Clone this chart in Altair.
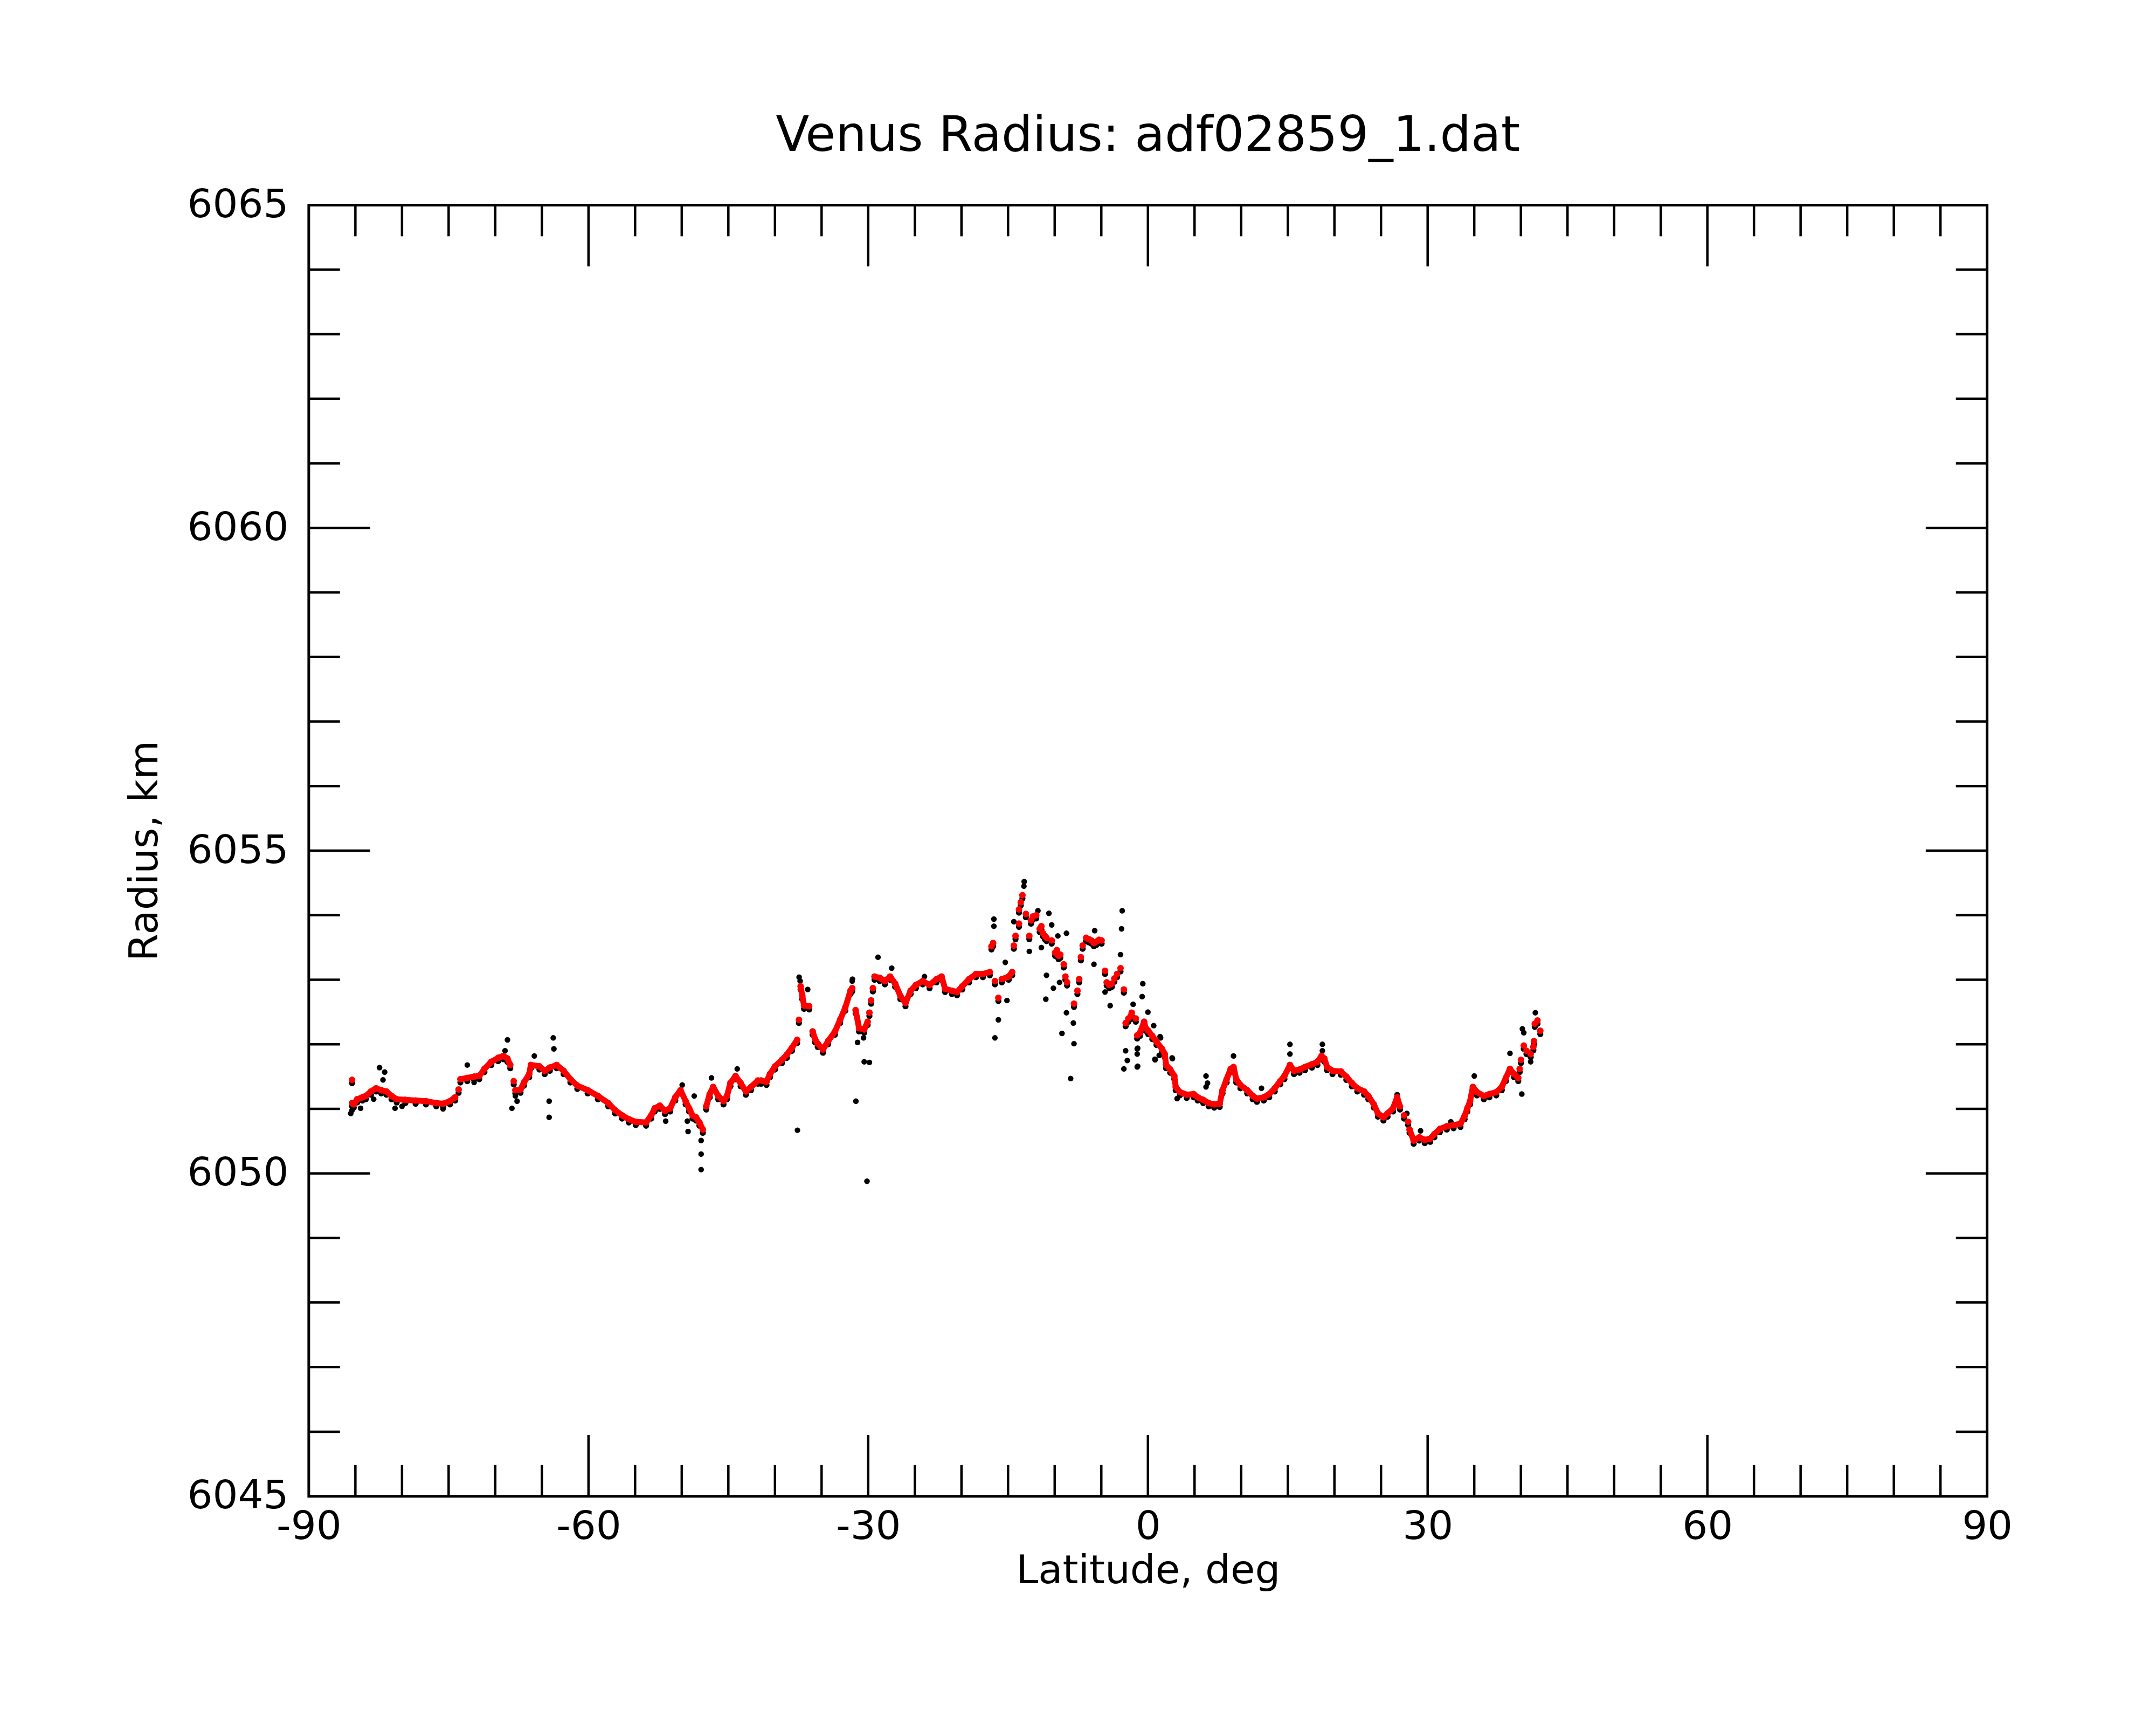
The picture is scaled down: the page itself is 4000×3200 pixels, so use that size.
import altair as alt
import pandas as pd

W, H = 3120, 2400
FONT = "DejaVu Sans"

# ---- axis tick positions / labels ----
x_labels = [-90, -60, -30, 0, 30, 60, 90]
x_major = [-60, -30, 0, 30, 60]
x_minor = [-85, -80, -75, -70, -65, -55, -50, -45, -40, -35, -25, -20, -15, -10, -5,
           5, 10, 15, 20, 25, 35, 40, 45, 50, 55, 65, 70, 75, 80, 85]
y_labels = [6045, 6050, 6055, 6060, 6065]
y_major = [6050, 6055, 6060]
y_minor = [6046, 6047, 6048, 6049, 6051, 6052, 6053, 6054, 6056, 6057, 6058, 6059,
           6061, 6062, 6063, 6064]

# ---- red (smoothed) radius, continuous stretches: (latitude, radius km) ----
seg_a = [(-85.36, 6051.09), (-85.18, 6051.07), (-84.81, 6051.15), (-84.25, 6051.18),
         (-83.89, 6051.20), (-83.33, 6051.27), (-82.78, 6051.32), (-82.23, 6051.29),
         (-81.67, 6051.27), (-81.12, 6051.20), (-80.57, 6051.15), (-79.64, 6051.14),
         (-78.54, 6051.13), (-77.43, 6051.12), (-76.32, 6051.09), (-75.59, 6051.08),
         (-74.85, 6051.12), (-74.30, 6051.18)]
seg_b = [(-73.74, 6051.46), (-73.00, 6051.48), (-72.27, 6051.50), (-71.71, 6051.51),
         (-71.16, 6051.62), (-70.42, 6051.73), (-69.69, 6051.79), (-69.13, 6051.82),
         (-68.70, 6051.78), (-68.39, 6051.68)]
seg_c = [(-67.84, 6051.29), (-67.29, 6051.30), (-66.92, 6051.41), (-66.36, 6051.54),
         (-66.18, 6051.68), (-65.26, 6051.66), (-64.70, 6051.59), (-64.15, 6051.64),
         (-63.41, 6051.68), (-62.67, 6051.59), (-61.94, 6051.46), (-61.20, 6051.36),
         (-60.09, 6051.29), (-58.99, 6051.20), (-57.88, 6051.09), (-57.14, 6050.98),
         (-56.40, 6050.90), (-55.67, 6050.84), (-54.93, 6050.80), (-53.82, 6050.79),
         (-53.27, 6050.90), (-52.90, 6051.01), (-52.35, 6051.05), (-51.79, 6050.97),
         (-51.24, 6051.01), (-50.69, 6051.18), (-50.13, 6051.29), (-49.58, 6051.12),
         (-49.21, 6051.01), (-48.84, 6050.90), (-48.47, 6050.87), (-48.10, 6050.79),
         (-47.74, 6050.68)]
seg_d = [(-47.37, 6051.04), (-47.00, 6051.23), (-46.63, 6051.34), (-46.08, 6051.20),
         (-45.52, 6051.12), (-45.15, 6051.20), (-44.78, 6051.40), (-44.23, 6051.51),
         (-43.68, 6051.40), (-43.12, 6051.27), (-42.57, 6051.34), (-41.83, 6051.44),
         (-41.49, 6051.44), (-40.91, 6051.42), (-40.54, 6051.54), (-39.99, 6051.66),
         (-39.25, 6051.76), (-38.73, 6051.84), (-38.17, 6051.95), (-37.62, 6052.07)]
seg_e = [(-37.25, 6052.90), (-37.07, 6052.75), (-36.88, 6052.60), (-36.33, 6052.59)]
seg_f = [(-35.96, 6052.20), (-35.70, 6052.08), (-35.41, 6052.01), (-34.85, 6051.92),
         (-34.30, 6052.05), (-33.56, 6052.20), (-33.01, 6052.38), (-32.46, 6052.57),
         (-31.90, 6052.83), (-31.72, 6052.87)]
seg_g = [(-31.35, 6052.53), (-30.98, 6052.25), (-30.43, 6052.23), (-30.06, 6052.35)]
seg_h = [(-29.32, 6053.05), (-28.77, 6053.03), (-28.21, 6052.98), (-27.66, 6053.05),
         (-27.11, 6052.94), (-26.55, 6052.75), (-26.00, 6052.64), (-25.45, 6052.83),
         (-24.89, 6052.92), (-24.16, 6052.98), (-23.42, 6052.92), (-22.68, 6053.01),
         (-22.13, 6053.05), (-21.76, 6052.86), (-21.02, 6052.83), (-20.47, 6052.81),
         (-19.91, 6052.90), (-19.18, 6053.01), (-18.44, 6053.09), (-17.70, 6053.09),
         (-16.96, 6053.12)]
seg_i = [(-15.67, 6053.01), (-14.93, 6053.05), (-14.56, 6053.12)]
seg_j = [(-1.15, 6052.14), (-0.85, 6052.18), (-0.41, 6052.35), (-0.26, 6052.26),
         (0.03, 6052.21), (0.47, 6052.13), (0.92, 6052.04), (1.51, 6051.93),
         (1.80, 6051.85), (1.95, 6051.68), (2.39, 6051.61), (2.83, 6051.51),
         (2.98, 6051.34), (3.42, 6051.26), (4.16, 6051.22), (4.90, 6051.23),
         (5.34, 6051.18), (5.93, 6051.14), (6.52, 6051.09), (7.11, 6051.07),
         (7.70, 6051.08), (8.00, 6051.29), (8.44, 6051.46), (8.88, 6051.62),
         (9.18, 6051.65), (9.47, 6051.46), (9.92, 6051.37), (10.65, 6051.29),
         (11.24, 6051.20), (11.69, 6051.16), (12.42, 6051.18), (13.01, 6051.23),
         (13.60, 6051.32), (14.19, 6051.43), (14.64, 6051.51), (15.23, 6051.68),
         (15.67, 6051.59), (16.26, 6051.61), (16.85, 6051.65), (17.59, 6051.69),
         (18.18, 6051.73), (18.62, 6051.82), (18.92, 6051.78), (19.21, 6051.65),
         (19.80, 6051.59), (20.69, 6051.58), (21.28, 6051.50), (21.87, 6051.40),
         (22.46, 6051.32), (23.19, 6051.27), (23.64, 6051.20), (24.23, 6051.07),
         (24.67, 6050.93), (25.26, 6050.87), (25.70, 6050.93), (26.29, 6051.01),
         (26.73, 6051.18), (27.03, 6051.04)]
seg_k = [(28.06, 6050.68), (28.50, 6050.51), (29.10, 6050.56), (29.69, 6050.52),
         (30.28, 6050.54), (30.72, 6050.61), (31.31, 6050.69), (32.05, 6050.73),
         (32.78, 6050.75), (33.52, 6050.77), (33.96, 6050.89), (34.26, 6051.01),
         (34.55, 6051.12), (34.85, 6051.34), (35.29, 6051.26), (36.03, 6051.20),
         (36.62, 6051.23), (37.36, 6051.26), (37.95, 6051.34), (38.39, 6051.48),
         (38.83, 6051.62), (39.28, 6051.54), (39.72, 6051.48)]

# ---- red points in the noisy stretches (not connected) ----
red_scatter = [(-85.36, 6051.45), (-73.93, 6051.30), (-68.02, 6051.43), (-37.43, 6052.38),
               (-29.87, 6052.49), (-29.69, 6052.68), (-29.50, 6052.87),
               (-16.78, 6053.52), (-16.60, 6053.57), (-16.41, 6052.98), (-16.04, 6052.72),
               (-14.38, 6053.53), (-14.20, 6053.68), (-13.83, 6053.87), (-13.83, 6054.09),
               (-13.64, 6054.20), (-13.46, 6054.31), (-13.09, 6054.02), (-12.72, 6053.68),
               (-12.54, 6053.92), (-12.35, 6053.98), (-11.98, 6054.00), (-11.61, 6053.79),
               (-11.43, 6053.83), (-11.25, 6053.72), (-11.06, 6053.68), (-10.88, 6053.65),
               (-10.32, 6053.61), (-9.96, 6053.42), (-9.77, 6053.46), (-9.59, 6053.37),
               (-9.40, 6053.39), (-9.03, 6053.24), (-8.85, 6053.05), (-8.67, 6052.96),
               (-7.93, 6052.63), (-7.56, 6052.83), (-7.37, 6053.01), (-7.19, 6053.35),
               (-7.00, 6053.53), (-6.63, 6053.65), (-6.35, 6053.63), (-6.08, 6053.61),
               (-5.80, 6053.57), (-5.53, 6053.59), (-5.25, 6053.62), (-4.97, 6053.61),
               (-4.60, 6053.14), (-4.42, 6052.96), (-4.15, 6052.92), (-3.87, 6052.94),
               (-3.60, 6053.02), (-3.31, 6053.09), (-2.94, 6053.18), (-2.58, 6052.85),
               (-2.39, 6052.33), (-2.10, 6052.40), (-1.84, 6052.44), (-1.74, 6052.49),
               (-1.30, 6052.40), (27.47, 6050.90), (27.91, 6050.80),
               (39.87, 6051.62), (40.01, 6051.76), (40.31, 6051.98), (40.60, 6051.90),
               (41.05, 6051.85), (41.34, 6051.96), (41.40, 6052.05), (41.49, 6052.32),
               (41.78, 6052.37), (42.08, 6052.21)]

# ---- black (raw) points that stray from the red curve ----
black_outliers = [(-85.50, 6050.93), (-85.36, 6050.98), (-84.44, 6051.01), (-83.04, 6051.15),
                  (-82.41, 6051.64), (-82.04, 6051.45), (-81.86, 6051.57), (-80.75, 6051.01),
                  (-80.00, 6051.04), (-75.60, 6051.00), (-73.00, 6051.68), (-72.27, 6051.41),
                  (-68.95, 6051.90), (-68.69, 6052.07), (-68.21, 6051.01), (-67.84, 6051.20),
                  (-67.66, 6051.12), (-65.81, 6051.82), (-64.22, 6051.12), (-64.22, 6050.87),
                  (-63.78, 6052.10), (-63.71, 6051.93), (-51.72, 6050.81), (-49.95, 6051.37),
                  (-49.40, 6050.81), (-49.32, 6050.65), (-48.66, 6051.20), (-47.92, 6050.51),
                  (-47.92, 6050.30), (-47.92, 6050.06), (-46.81, 6051.48), (-44.05, 6051.62),
                  (-37.59, 6050.67), (-37.41, 6053.04), (-37.30, 6052.98), (-36.49, 6052.85),
                  (-31.69, 6053.01), (-31.72, 6052.98), (-31.32, 6051.12), (-31.14, 6052.03),
                  (-30.50, 6052.10), (-30.43, 6051.73), (-30.13, 6049.88), (-29.87, 6051.72),
                  (-28.95, 6053.35), (-27.48, 6053.18), (-23.97, 6053.05), (-16.52, 6053.94),
                  (-16.52, 6053.83), (-16.41, 6052.10), (-16.04, 6052.38), (-15.30, 6053.27),
                  (-15.12, 6052.68), (-13.27, 6054.52), (-13.30, 6054.45), (-14.38, 6053.90),
                  (-12.72, 6053.44), (-11.80, 6054.07), (-11.43, 6053.50), (-10.95, 6052.70),
                  (-10.88, 6053.07), (-10.62, 6054.03), (-10.32, 6053.85), (-10.14, 6052.87),
                  (-9.66, 6053.68), (-9.48, 6052.96), (-9.22, 6052.17), (-8.74, 6053.72),
                  (-8.74, 6052.49), (-8.29, 6051.47), (-8.00, 6052.33), (-7.93, 6052.01),
                  (-5.79, 6053.24), (-5.71, 6053.76), (-4.60, 6052.81), (-4.05, 6052.60),
                  (-2.94, 6053.39), (-2.83, 6053.79), (-2.76, 6054.07), (-2.58, 6051.62),
                  (-2.39, 6051.90), (-2.21, 6051.75), (-1.59, 6052.62), (-1.15, 6051.93),
                  (-1.15, 6051.85), (-1.15, 6051.65), (-1.10, 6051.66), (-1.10, 6051.94),
                  (-0.55, 6052.94), (-0.62, 6052.74), (0.00, 6052.50), (0.62, 6052.29),
                  (0.74, 6051.77), (0.77, 6051.76), (1.21, 6051.83), (1.30, 6052.12),
                  (1.36, 6052.10), (2.59, 6051.79), (2.63, 6051.78), (3.13, 6051.16),
                  (6.23, 6051.51), (6.23, 6051.34), (6.39, 6051.40), (9.18, 6051.82),
                  (12.18, 6051.32), (15.23, 6052.00), (15.23, 6051.85), (18.71, 6052.00),
                  (18.71, 6051.90), (26.73, 6051.22), (27.77, 6050.93), (29.24, 6050.66),
                  (32.49, 6050.80), (35.00, 6051.51), (38.83, 6051.86), (40.10, 6051.23),
                  (40.16, 6052.24), (40.31, 6052.18), (41.05, 6051.73), (41.55, 6052.49)]

# ---- tables ----
segments = [seg_a, seg_b, seg_c, seg_d, seg_e, seg_f, seg_g, seg_h, seg_i, seg_j, seg_k]
rows = []
for k, seg in enumerate(segments):
    for lat, r in seg:
        rows.append({"lat": lat, "r": r, "seg": k})
red_line_df = pd.DataFrame(rows)
red_pts_df = pd.concat([red_line_df[["lat", "r"]],
                        pd.DataFrame(red_scatter, columns=["lat", "r"])], ignore_index=True)
black_df = pd.DataFrame(black_outliers, columns=["lat", "r"])

xs = alt.Scale(domain=[-90, 90], nice=False, zero=False)
ys = alt.Scale(domain=[6045, 6065], nice=False, zero=False)

LABEL_EXPR = "'' + datum.value"
x_axis = alt.Axis(values=x_labels, labelExpr=LABEL_EXPR, ticks=False, tickSize=0,
                  domain=False, grid=False,
                  labelFont=FONT, labelFontSize=74, labelColor="black", labelPadding=79,
                  labelBaseline="alphabetic", labelFlush=False, labelOverlap=False,
                  labelLimit=1000,
                  title="Latitude, deg", titleFont=FONT, titleFontSize=74,
                  titleFontWeight="normal", titleColor="black", titleX=W / 2, titleY=161,
                  titleAlign="center", titleBaseline="alphabetic")
y_axis = alt.Axis(values=y_labels, labelExpr=LABEL_EXPR, ticks=False, tickSize=0,
                  domain=False, grid=False,
                  labelFont=FONT, labelFontSize=74, labelColor="black", labelPadding=38,
                  labelBaseline="middle", labelFlush=False, labelOverlap=False,
                  labelLimit=1000,
                  title="Radius, km", titleFont=FONT, titleFontSize=74,
                  titleFontWeight="normal", titleColor="black", titleAngle=270,
                  titleX=-282, titleY=H / 2, titleAlign="center", titleBaseline="alphabetic")


def X():
    return alt.X("lat:Q", scale=xs, axis=x_axis)


def Y():
    return alt.Y("r:Q", scale=ys, axis=y_axis)


MAJ, MIN = 114, 58
TICKW = 4.5
xmaj_df = pd.DataFrame({"lat": x_major})
xmin_df = pd.DataFrame({"lat": x_minor})
ymaj_df = pd.DataFrame({"r": y_major})
ymin_df = pd.DataFrame({"r": y_minor})

layers = []
for df, L in [(xmaj_df, MAJ), (xmin_df, MIN)]:
    layers.append(alt.Chart(df).mark_rule(color="black", strokeWidth=TICKW).encode(
        x=X(), y=alt.value(H), y2=alt.value(H - L)))
    layers.append(alt.Chart(df).mark_rule(color="black", strokeWidth=TICKW).encode(
        x=X(), y=alt.value(0), y2=alt.value(L)))
for df, L in [(ymaj_df, MAJ), (ymin_df, MIN)]:
    layers.append(alt.Chart(df).mark_rule(color="black", strokeWidth=TICKW).encode(
        y=Y(), x=alt.value(0), x2=alt.value(L)))
    layers.append(alt.Chart(df).mark_rule(color="black", strokeWidth=TICKW).encode(
        y=Y(), x=alt.value(W), x2=alt.value(W - L)))

shadow = alt.Chart(red_pts_df).mark_circle(color="black", size=130, opacity=1, yOffset=6).encode(
    x=X(), y=Y())
outl = alt.Chart(black_df).mark_circle(color="black", size=110, opacity=1).encode(x=X(), y=Y())
red_line = alt.Chart(red_line_df).mark_line(color="#ff0000", strokeWidth=11,
                                            strokeCap="round", strokeJoin="round").encode(
    x=X(), y=Y(), detail="seg:N")
red_pts = alt.Chart(red_pts_df).mark_circle(color="#ff0000", size=150, opacity=1).encode(
    x=X(), y=Y())

chart = alt.layer(*layers, shadow, outl, red_line, red_pts).properties(
    width=W, height=H,
    background="white",
    padding={"left": 566, "top": 370, "right": 306, "bottom": 422},
    autosize=alt.AutoSizeParams(type="none"),
    title=alt.TitleParams("Venus Radius: adf02859_1.dat", font=FONT, fontSize=91,
                          fontWeight="normal", color="black", anchor="middle",
                          frame="group", baseline="alphabetic", offset=60, dy=87),
).configure_view(stroke="black", strokeWidth=5)

chart.save("out.html", embed_options={"renderer": "svg", "actions": False})
